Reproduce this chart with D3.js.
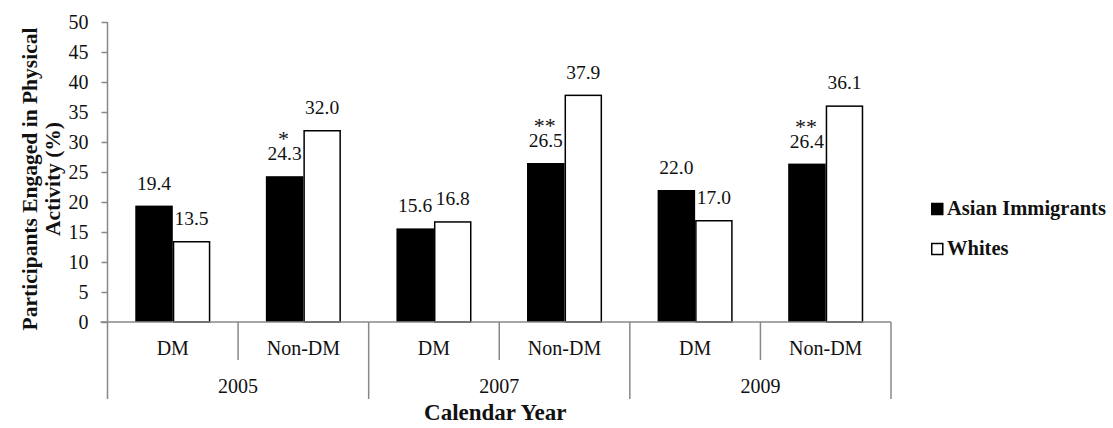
<!DOCTYPE html>
<html>
<head>
<meta charset="utf-8">
<script src="https://cdn.jsdelivr.net/npm/d3@7/dist/d3.min.js"></script>
<style>
  html, body { margin: 0; padding: 0; background: #fff; }
  svg { display: block; }
  svg text { font-family: "Liberation Serif", "Times New Roman", serif; }
</style>
</head>
<body>
<svg id="chart" width="1113" height="428" font-family="Liberation Serif"></svg>
<script>
// Physical activity by year, diabetes status and group
const years = ["2005", "2007", "2009"];
const statuses = ["DM", "Non-DM"];
const seriesNames = ["Asian Immigrants", "Whites"];
const asianValues = [19.4, 24.3, 15.6, 26.5, 22.0, 26.4];
const whiteValues = [13.5, 32.0, 16.8, 37.9, 17.0, 36.1];
const significance = ["", "*", "", "**", "", "**"];
const yTicks = [0, 5, 10, 15, 20, 25, 30, 35, 40, 45, 50];

const svg = d3.select("#chart");
const plotLeft = 107.5, plotRight = 891, plotTop = 22, plotBase = 322, axisBottom = 399;
const axisColor = "#888";
const serif = "Liberation Serif";

// one entry per year/status combination
const cats = [];
years.forEach(yr => statuses.forEach(s => cats.push({ year: yr, status: s })));
cats.forEach((c, i) => {
  c.key = c.year + "-" + c.status;
  c.values = [asianValues[i], whiteValues[i]];
  c.sig = significance[i];
});

const x = d3.scaleBand().domain(cats.map(c => c.key)).range([plotLeft, plotRight]).padding(0);
const xs = d3.scaleBand().domain(seriesNames).range([0, x.bandwidth()])
  .paddingInner(0).paddingOuter(0.74);
const y = d3.scaleLinear().domain([0, 50]).range([plotBase, plotTop]);

// y axis
const yAxis = svg.append("g").attr("transform", `translate(${plotLeft},0)`)
  .call(d3.axisLeft(y).tickValues(yTicks).tickSize(6).tickPadding(13).tickFormat(d3.format("d")));
yAxis.attr("font-family", serif);
yAxis.select(".domain").remove();
yAxis.selectAll(".tick line").attr("stroke", axisColor).attr("stroke-width", 1.5);
yAxis.selectAll(".tick text").attr("font-size", 20).attr("fill", "#111");
svg.append("line").attr("x1", plotLeft).attr("x2", plotLeft).attr("y1", plotTop).attr("y2", axisBottom)
  .attr("stroke", axisColor).attr("stroke-width", 1.5);

// bars
const fills = ["#000", "#fff"];
const groups = svg.append("g").selectAll("g").data(cats).join("g")
  .attr("transform", d => `translate(${x(d.key)},0)`);
groups.selectAll("rect").data(d => d.values.map((v, i) => ({ v, name: seriesNames[i], i })))
  .join("rect")
  .attr("x", d => xs(d.name) + (d.i === 1 ? 0.75 : 0))
  .attr("width", d => xs.bandwidth() - (d.i === 1 ? 1.5 : 0))
  .attr("y", d => y(d.v) + (d.i === 1 ? 0.75 : 0))
  .attr("height", d => plotBase - y(d.v) - (d.i === 1 ? 0.75 : 0))
  .attr("fill", d => fills[d.i])
  .attr("stroke", d => d.i === 1 ? "#000" : "none")
  .attr("stroke-width", 1.5);

// value labels
groups.selectAll("text.val").data(d => d.values.map((v, i) => ({ v, name: seriesNames[i] })))
  .join("text").attr("class", "val")
  .attr("x", d => xs(d.name) + xs.bandwidth() / 2)
  .attr("y", d => y(d.v) - 16)
  .attr("text-anchor", "middle").attr("font-size", 19.5).attr("fill", "#111")
  .text(d => d3.format(".1f")(d.v));

// significance marks above the Asian Immigrants label
groups.filter(d => d.sig).append("text")
  .attr("x", xs(seriesNames[0]) + xs.bandwidth() / 2 - 1)
  .attr("y", d => y(d.values[0]) - 16 - 14)
  .attr("text-anchor", "middle").attr("font-size", 22).attr("fill", "#111")
  .text(d => d.sig);

// x baseline
svg.append("line").attr("x1", plotLeft - 7).attr("x2", plotRight).attr("y1", plotBase).attr("y2", plotBase)
  .attr("stroke", axisColor).attr("stroke-width", 1.5);

// status separators and labels
cats.forEach(c => {
  const x0 = x(c.key), x1 = x0 + x.bandwidth();
  if (c.status === "DM") {
    svg.append("line").attr("x1", x1).attr("x2", x1).attr("y1", plotBase).attr("y2", 360)
      .attr("stroke", axisColor).attr("stroke-width", 1.5);
  }
  svg.append("text").attr("x", x0 + x.bandwidth() / 2).attr("y", 355)
    .attr("text-anchor", "middle").attr("font-size", 20).attr("fill", "#111").text(c.status);
});

// year separators and labels
years.forEach(yr => {
  const ks = cats.filter(c => c.year === yr);
  const x0 = x(ks[0].key), x1 = x(ks[ks.length - 1].key) + x.bandwidth();
  svg.append("line").attr("x1", x1).attr("x2", x1).attr("y1", plotBase).attr("y2", axisBottom)
    .attr("stroke", axisColor).attr("stroke-width", 1.5);
  svg.append("text").attr("x", (x0 + x1) / 2).attr("y", 393)
    .attr("text-anchor", "middle").attr("font-size", 20).attr("fill", "#111").text(yr);
});

// axis titles
svg.append("text").attr("x", (plotLeft + plotRight) / 2 - 4).attr("y", 420)
  .attr("text-anchor", "middle").attr("font-size", 23).attr("font-weight", "bold").attr("fill", "#111")
  .text("Calendar Year");

const yt = svg.append("text").attr("transform", "translate(0,179) rotate(-90)")
  .attr("text-anchor", "middle").attr("font-size", 21.5).attr("font-weight", "bold").attr("fill", "#111");
yt.append("tspan").attr("x", 0).attr("y", 37).text("Participants Engaged in Physical");
yt.append("tspan").attr("x", 0).attr("y", 60).text("Activity (%)");

// legend
const legend = svg.append("g").attr("transform", "translate(931,0)");
seriesNames.forEach((name, i) => {
  const ly = 215 + i * 40;
  legend.append("rect").attr("x", 0.75).attr("y", ly - 11.5).attr("width", 11).attr("height", 11)
    .attr("fill", fills[i]).attr("stroke", "#000").attr("stroke-width", 1.5);
  legend.append("text").attr("x", 16).attr("y", ly).attr("font-size", 20.5)
    .attr("font-weight", "bold").attr("fill", "#111").text(name);
});
</script>
</body>
</html>
